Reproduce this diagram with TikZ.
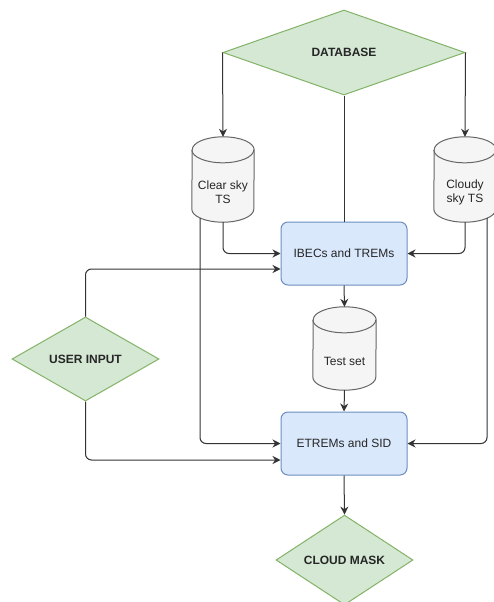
\documentclass[tikz,border=0pt]{standalone}
\usepackage{fontspec}
\setmainfont{Liberation Sans}
\usetikzlibrary{shapes.geometric,arrows.meta,calc,backgrounds}
\definecolor{gfill}{HTML}{D5E8D4}
\definecolor{gline}{HTML}{82B366}
\definecolor{bfill}{HTML}{DAE8FC}
\definecolor{bline}{HTML}{6C8EBF}
\definecolor{cfill}{HTML}{F5F5F5}
\definecolor{cline}{HTML}{666666}
\definecolor{eline}{HTML}{333333}
\newcommand\drawcylinder[2]{%
  \path[draw=cline, fill=cfill, line width=1pt]
    ($(#1.south west)+(0,-13)$)
    arc[start angle=180, end angle=360, x radius=#2pt, y radius=13pt]
    -- ($(#1.north east)+(0,-13)$)
    arc[start angle=0, end angle=180, x radius=#2pt, y radius=13pt]
    -- cycle;
  \draw[draw=cline, line width=1pt] ($(#1.north west)+(0,-13)$)
    arc[start angle=180, end angle=360, x radius=#2pt, y radius=13pt];}
\begin{document}
\begin{tikzpicture}[x=1pt,y=-1pt,
  every node/.style={font=\fontsize{12}{14}\selectfont, text=black!85},
  dia/.style={diamond, draw=gline, fill=gfill, line width=1pt, inner sep=0pt, font=\fontsize{12}{14}\selectfont\bfseries},
  procbox/.style={rectangle, rounded corners=7pt, draw=bline, fill=bfill, line width=1pt, minimum width=126pt, minimum height=63pt},
  cylbody/.style={rectangle, align=center, inner sep=0pt, minimum width=62pt, minimum height=59pt},
  conn/.style={draw=eline, line width=1pt, rounded corners=6pt},
  arr/.style={conn, -{Stealth[length=8pt,width=8pt]}}
]
\useasboundingbox (0,0) rectangle (493,602);

\node[dia, minimum width=242pt, minimum height=85pt] (db) at (344,52.5) {DATABASE};
\node[dia, minimum width=147pt, minimum height=84pt] (ui) at (85.5,359) {USER INPUT};
\node[dia, minimum width=137pt, minimum height=85pt] (cm) at (344.5,560) {CLOUD MASK};

\node[cylbody] (clear) at (223,192.5) {Clear sky\\TS};
\node[cylbody] (cloudy) at (465,192.5) {Cloudy\\sky TS};
\node[cylbody, minimum width=63pt, minimum height=57pt] (test) at (344.5,361.5) {Test set};

\begin{pgfonlayer}{background}
\fill[white] (0,0) rectangle (493,602);
\drawcylinder{clear}{31}
\drawcylinder{cloudy}{31}
\drawcylinder{test}{31.5}
\end{pgfonlayer}

\node[procbox] (ib) at (344,253.5) {IBECs and TREMs};
\node[procbox] (et) at (344,443.5) {ETREMs and SID};

\draw[arr] (db.west) -- ($(clear.north)+(0,-26)$);
\draw[arr] (db.east) -- ($(cloudy.north)+(0,-26)$);
\draw[conn] (db.south) -- (ib.north);

\draw[arr] (clear.south) |- (ib.west);
\draw[arr] (cloudy.south) |- (ib.east);
\draw[arr] ($(clear.south)+(-23,-4.3)$) |- (et.west);
\draw[arr] ($(cloudy.south)+(22,-4.3)$) |- (et.east);

\draw[arr] (ui.north) |- ([yshift=-15.5pt]ib.west);
\draw[arr] (ui.south) |- ([yshift=-16.5pt]et.west);

\draw[arr] (ib.south) -- ($(test.north)+(0,-26)$);
\draw[arr] (test.south) -- (et.north);
\draw[arr] (et.south) -- (cm.north);
\end{tikzpicture}
\end{document}
